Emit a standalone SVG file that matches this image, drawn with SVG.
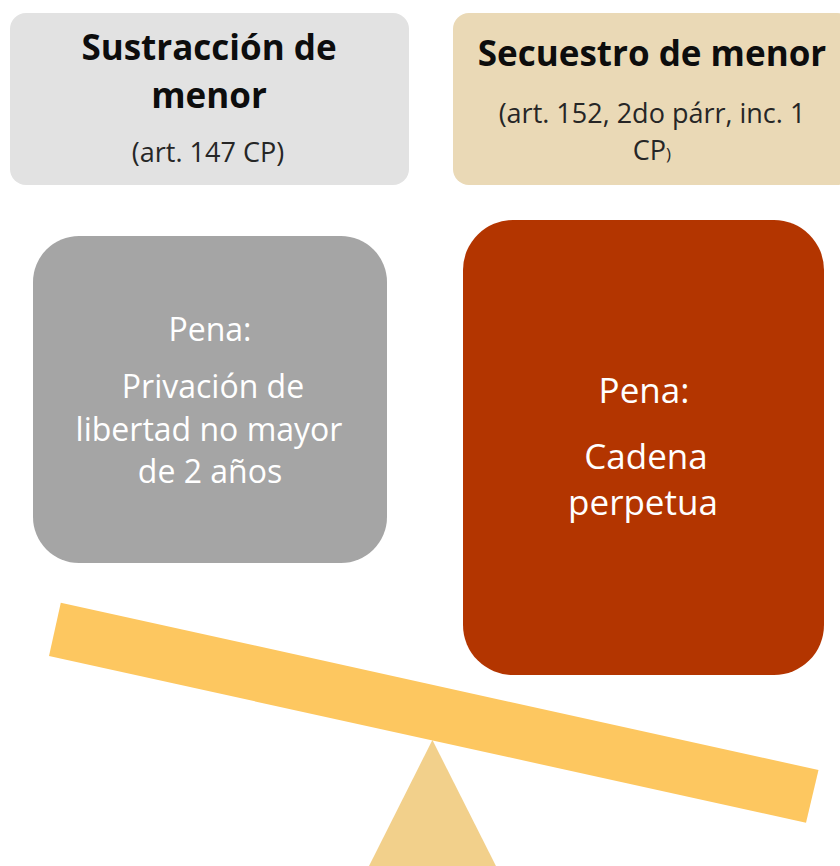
<svg xmlns="http://www.w3.org/2000/svg" width="840" height="866" viewBox="0 0 840 866">
<style>
.t{font-family:"Open Sans","Liberation Sans",sans-serif;text-anchor:middle}
.b{font-weight:bold;font-size:35px;fill:#0d0d0d}
.s{font-size:27px;fill:#262626}
.w{fill:#ffffff}
</style>
<rect width="840" height="866" fill="#ffffff"/>
<g id="sustraccion">
<rect x="10" y="13" width="399" height="172" rx="16" fill="#E2E2E2"/>
<text class="t b" x="209" y="60">Sustracción de</text>
<text class="t b" x="209" y="108">menor</text>
<text class="t s" x="208" y="162">(art. 147 CP)</text>
</g>
<g id="secuestro">
<rect x="453" y="13" width="400" height="172" rx="16" fill="#EAD9B6"/>
<text class="t b" x="652" y="66">Secuestro de menor</text>
<text class="t s" x="652" y="123">(art. 152, 2do párr, inc. 1</text>
<text class="t s" x="652" y="160">CP<tspan font-size="17px">)</tspan></text>
</g>
<g id="pena-sustraccion">
<rect x="33" y="236" width="354" height="327" rx="46" fill="#A5A5A5"/>
<text class="t w" font-size="32" x="210" y="341" fill="#F4F4F4">Pena:</text>
<text class="t w" font-size="32" x="213" y="398" fill="#F4F4F4">Privación de</text>
<text class="t w" font-size="32" x="209" y="441" fill="#F4F4F4">libertad no mayor</text>
<text class="t w" font-size="32" x="210" y="483" fill="#F4F4F4">de 2 años</text>
</g>
<g id="pena-secuestro">
<rect x="463" y="220" width="361" height="455" rx="50" fill="#B33500"/>
<text class="t w" font-size="35" x="644" y="403">Pena:</text>
<text class="t w" font-size="35" x="646" y="469">Cadena</text>
<text class="t w" font-size="35" x="643" y="515">perpetua</text>
</g>
<g id="balanza">
<polygon points="432.4,740 366,872 499,872" fill="#F2D08B"/>
<polygon points="60.8,602.7 818.5,770 806,822.7 49,656" fill="#FDC760"/>
</g>
<g id="connectors"></g>
</svg>
